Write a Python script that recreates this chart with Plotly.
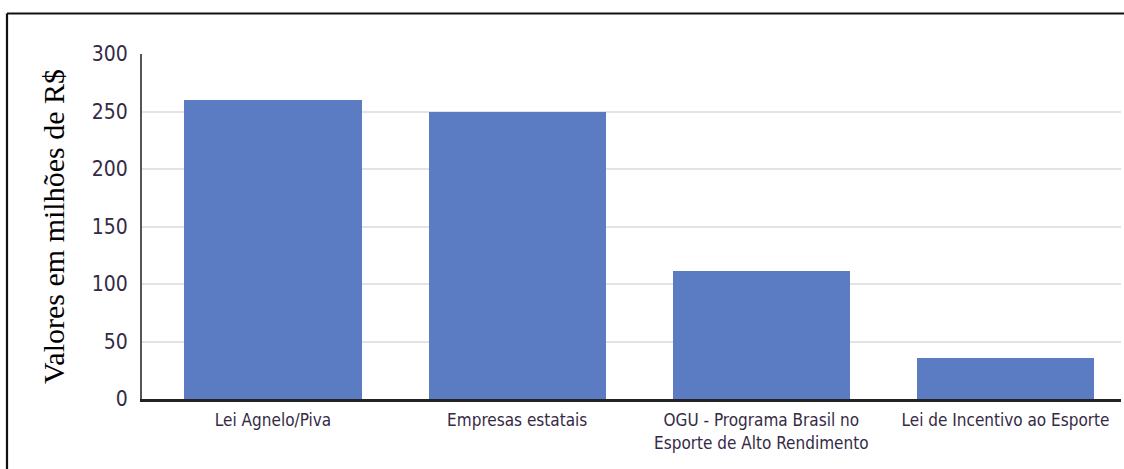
import plotly.graph_objects as go

# Valores por fonte de financiamento (milhões de R$)
categorias = [
    "Lei Agnelo/Piva",
    "Empresas estatais",
    "OGU - Programa Brasil no<br>Esporte de Alto Rendimento",
    "Lei de Incentivo ao Esporte",
]
valores = [260, 250, 111, 36]
ticks_y = [0, 50, 100, 150, 200, 250, 300]

W, H = 1124, 469
ML, MR, MT, MB = 142, 3, 54, 70
PW = W - ML - MR
PH = H - MT - MB

cond = "Liberation Sans Narrow, DejaVu Sans Condensed, Arial Narrow, sans-serif"
tick_color = "#352a45"

fig = go.Figure(
    go.Bar(
        x=list(range(len(categorias))),
        y=valores,
        width=0.725,
        marker=dict(color="#5b7bc2", line=dict(width=0)),
        hoverinfo="skip",
    )
)

# moldura externa (linhas superior e esquerda)
def px_to_paper_x(px):
    return (px - ML) / PW

def px_to_paper_y(py):
    return (H - MB - py) / PH

fig.add_shape(type="line", xref="paper", yref="paper",
              x0=px_to_paper_x(7), x1=px_to_paper_x(W + 5),
              y0=px_to_paper_y(13.5), y1=px_to_paper_y(13.5),
              line=dict(color="#111111", width=2.2))
fig.add_shape(type="line", xref="paper", yref="paper",
              x0=px_to_paper_x(7), x1=px_to_paper_x(7),
              y0=px_to_paper_y(13.5), y1=px_to_paper_y(H + 5),
              line=dict(color="#111111", width=2.2))

fig.update_layout(
    width=W, height=H,
    margin=dict(l=ML, r=MR, t=MT, b=MB, pad=0),
    paper_bgcolor="white",
    plot_bgcolor="white",
    showlegend=False,
    bargap=0,
    xaxis=dict(
        range=[-0.5365, 3.473],
        tickmode="array",
        tickvals=list(range(len(categorias))),
        ticktext=categorias,
        tickfont=dict(family=cond, size=17, color=tick_color),
        ticklabelstandoff=4,
        showgrid=False,
        showline=True,
        linecolor="#222222",
        linewidth=3,
        ticks="",
        zeroline=False,
        fixedrange=True,
    ),
    yaxis=dict(
        range=[0, 300],
        tickmode="array",
        tickvals=ticks_y,
        ticktext=[str(v) for v in ticks_y],
        tickfont=dict(family=cond, size=21, color=tick_color),
        ticklabelstandoff=8,
        showgrid=True,
        gridcolor="#e3e3e3",
        gridwidth=2,
        showline=True,
        linecolor="#555555",
        linewidth=2,
        zeroline=False,
        ticks="",
        title=dict(
            text="Valores em milhões de R$",
            font=dict(family="Liberation Serif, Times New Roman, serif", size=30, color="#000000"),
            standoff=18,
        ),
        fixedrange=True,
    ),
)

fig.write_html("out.html")
